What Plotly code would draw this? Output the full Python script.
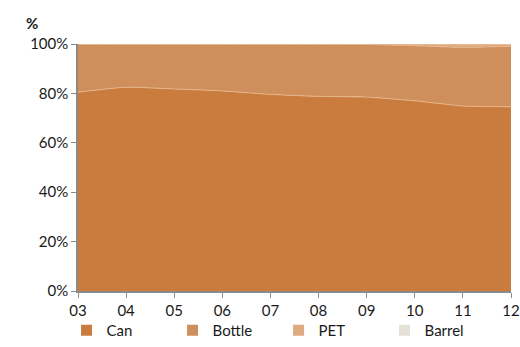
import plotly.graph_objects as go

years = ["03", "04", "05", "06", "07", "08", "09", "10", "11", "12"]
can = [80.5, 82.5, 81.8, 81.0, 79.6, 78.8, 78.5, 77.0, 74.9, 74.6]
bottle = [19.4, 17.4, 18.1, 18.9, 20.3, 21.1, 21.3, 22.3, 23.7, 24.5]
pet = [0.0, 0.0, 0.0, 0.0, 0.0, 0.0, 0.1, 0.5, 1.1, 0.6]
barrel = [0.1, 0.1, 0.1, 0.1, 0.1, 0.1, 0.1, 0.2, 0.3, 0.3]

series = [
    ("Can", can, "#C97C3D"),
    ("Bottle", bottle, "#CF8F5C"),
    ("PET", pet, "#DEAA80"),
    ("Barrel", barrel, "#E6E1D6"),
]

xs = list(range(len(years)))
font = "Lato, 'Open Sans', sans-serif"

fig = go.Figure()
for name, vals, color in series:
    fig.add_trace(go.Scatter(
        x=xs, y=vals, name=name, stackgroup="one", mode="lines",
        line=dict(width=1, color="#E6B48A", shape="spline", smoothing=0.5),
        fillcolor=color, showlegend=False, hoverinfo="skip",
    ))
for name, vals, color in series:
    fig.add_trace(go.Scatter(
        x=[None], y=[None], name=name, mode="markers",
        marker=dict(symbol="square", size=11, color=color),
    ))

fig.update_layout(
    width=520, height=347,
    margin=dict(l=78, r=9, t=44, b=56, autoexpand=False),
    paper_bgcolor="white", plot_bgcolor="white",
    font=dict(family=font, size=15, color="#1a1a1a"),
    showlegend=True,
    legend=dict(orientation="h", x=0.128, xref="container", xanchor="left",
                y=-0.02, yref="container", yanchor="bottom",
                traceorder="normal", itemwidth=30,
                entrywidth=61, entrywidthmode="pixels",
                font=dict(size=15), tracegroupgap=0, bgcolor="rgba(0,0,0,0)"),
    annotations=[dict(text="<b>%</b>", xref="paper", yref="paper", x=-0.125, y=1.04,
                      xanchor="left", yanchor="bottom", showarrow=False,
                      font=dict(size=15))],
)
fig.update_xaxes(range=[0, len(years) - 1], tickvals=xs, ticktext=years,
                 showline=True, linecolor="#8a8a8a", linewidth=1.5,
                 ticks="outside", ticklen=5, tickcolor="#8a8a8a",
                 showgrid=False, zeroline=False)
fig.update_yaxes(range=[0, 100], tickvals=[0, 20, 40, 60, 80, 100],
                 ticktext=["0%", "20%", "40%", "60%", "80%", "100%"],
                 showline=True, linecolor="#8a8a8a", linewidth=1.5,
                 ticks="outside", ticklen=5, tickcolor="#8a8a8a",
                 showgrid=False, zeroline=False)

fig.write_html("out.html")
